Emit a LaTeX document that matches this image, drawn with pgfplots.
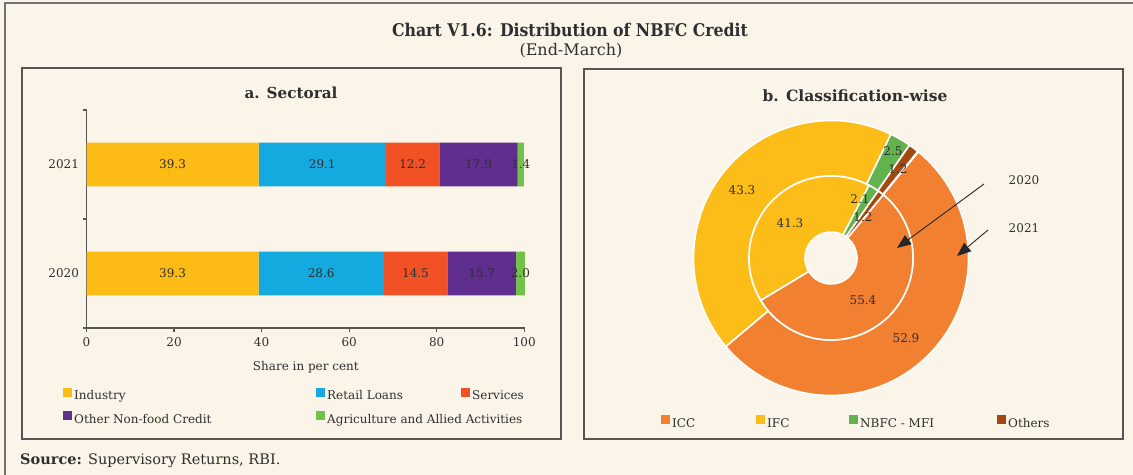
\documentclass[border=0pt]{standalone}
\usepackage{fontspec}
\setmainfont{DejaVu Serif}
\newfontfamily\condfont{DejaVu Serif Condensed}
\usepackage{pgfplots}
\pgfplotsset{compat=1.18}
\usepackage{pgfplotstable}
\usetikzlibrary{arrows.meta}

\definecolor{bg}{HTML}{FBF4E8}
\definecolor{cInd}{HTML}{FDBB16}
\definecolor{cRet}{HTML}{14AADF}
\definecolor{cSer}{HTML}{F15124}
\definecolor{cOth}{HTML}{5F2E8F}
\definecolor{cAgr}{HTML}{72C14A}
\definecolor{cICC}{HTML}{F28031}
\definecolor{cIFC}{HTML}{FDBD19}
\definecolor{cMFI}{HTML}{62B24E}
\definecolor{cOthers}{HTML}{A3490F}
\definecolor{txt}{HTML}{2F2F2F}
\definecolor{frame}{HTML}{555555}

\newcommand\fs{\fontsize{12bp}{14bp}\selectfont}
\newcommand\LA[2]{\makebox[#2bp][l]{\hspace{2bp}\rule[-3bp]{0pt}{12bp}#1}}

% Panel a: sectoral shares (per cent)
\pgfplotstableread{
pos ind ret ser oth agr
0 39.3 28.6 14.5 15.7 2.0
1 39.3 29.1 12.2 17.9 1.4
}\sectoral

% Panel b: classification-wise shares (per cent)
\pgfplotstableread{
cat y2020 y2021
ICC 55.4 52.9
IFC 41.3 43.3
MFI 2.1 2.5
Oth 1.2 1.2
}\donut

\pgfplotstablegetelem{0}{y2020}\of\donut\let\vIa\pgfplotsretval
\pgfplotstablegetelem{1}{y2020}\of\donut\let\vIb\pgfplotsretval
\pgfplotstablegetelem{2}{y2020}\of\donut\let\vIc\pgfplotsretval
\pgfplotstablegetelem{3}{y2020}\of\donut\let\vId\pgfplotsretval
\pgfplotstablegetelem{0}{y2021}\of\donut\let\vOa\pgfplotsretval
\pgfplotstablegetelem{1}{y2021}\of\donut\let\vOb\pgfplotsretval
\pgfplotstablegetelem{2}{y2021}\of\donut\let\vOc\pgfplotsretval
\pgfplotstablegetelem{3}{y2021}\of\donut\let\vOd\pgfplotsretval
\def\startang{50.5}
\pgfmathsetmacro\IA{\startang}
\pgfmathsetmacro\IB{\IA-3.6*\vIa}
\pgfmathsetmacro\IC{\IB-3.6*\vIb}
\pgfmathsetmacro\ID{\IC-3.6*\vIc}
\pgfmathsetmacro\IE{\ID-3.6*\vId}
\pgfmathsetmacro\OA{\startang}
\pgfmathsetmacro\OB{\OA-3.6*\vOa}
\pgfmathsetmacro\OC{\OB-3.6*\vOb}
\pgfmathsetmacro\OD{\OC-3.6*\vOc}
\pgfmathsetmacro\OE{\OD-3.6*\vOd}

\newcommand\donutwedge[5]{%
  \fill[#5, draw=white, line width=1.6bp]
    (axis cs:{#2*cos(#3)},{#2*sin(#3)}) arc[start angle=#3, end angle=#4, radius=#2bp]
    -- (axis cs:{#1*cos(#4)},{#1*sin(#4)}) arc[start angle=#4, end angle=#3, radius=#1bp] -- cycle;}

\begin{document}
\begin{tikzpicture}[x=1bp,y=1bp, font=\fs, text=txt]
\path[use as bounding box] (0,0) rectangle (1133,475);
\clip (0,0) rectangle (1133,475);
\fill[bg] (0,0) rectangle (1133,475);
% outer frame
\draw[black!55, line width=2.6bp] (5,-20) -- (5,472) -- (1150,472);
% panel frames
\draw[frame, line width=1.6bp] (22,36) rectangle (561,407);
\draw[frame, line width=1.6bp] (584,36) rectangle (1123,406);
% titles
\node at (570,445) {\condfont\bfseries\fontsize{17.5bp}{19bp}\selectfont Chart V1.6: Distribution of NBFC Credit};
\node at (571,424) {\fontsize{16bp}{18bp}\selectfont (End-March)};
\node at (291,382) {\bfseries\fontsize{15.2bp}{17bp}\selectfont a. Sectoral};
\node at (855,379) {\bfseries\fontsize{15.5bp}{17bp}\selectfont b. Classification-wise};
\node[anchor=west, inner sep=0pt] at (20,14) {\fontsize{14.5bp}{16bp}\selectfont\textbf{Source:} Supervisory Returns, RBI.};

\begin{axis}[
  at={(86.5bp,147bp)}, anchor=south west,
  scale only axis, width=438.68bp, height=218bp,
  xbar stacked, bar width=0.4,
  xmin=0, xmax=100.2, ymin=-0.5, ymax=1.5,
  clip=false,
  axis x line*=bottom, axis y line*=left,
  axis line style={draw=frame, line width=1.3bp},
  every tick/.style={draw=frame, line width=1.3bp},
  tick align=outside, major tick length=4bp,
  xtick={0,20,...,100},
  ytick={-0.5,0.5,1.5}, yticklabels={},
  extra y ticks={0,1}, extra y tick labels={2020,2021},
  extra y tick style={tick style={draw=none}},
  /pgf/number format/assume math mode=true,
  ticklabel style={font=\fs, text=txt},
  xticklabel style={yshift=-2bp},
  xlabel={Share in per cent},
  xlabel style={at={(axis description cs:0.5,-0.179)}, anchor=center, font=\fs},
  point meta=explicit symbolic,
  nodes near coords={\pgfplotspointmeta},
  every node near coord/.append style={anchor=center, font=\fs, text=txt},
  legend image code/.code={\fill[#1] (0bp,-0.5bp) rectangle (9bp,8.5bp);},
  legend columns=3,
  legend cell align=left,
  legend style={at={(axis description cs:-0.0536,-0.36)}, anchor=west, draw=none, fill=none,
    inner sep=0pt, column sep=0pt, row sep=10bp, font=\fs, nodes={inner sep=0pt}},
]
\addplot[fill=cInd, draw=none] table[x=ind, y=pos, meta=ind]{\sectoral};
\addplot[fill=cRet, draw=none] table[x=ret, y=pos, meta=ret]{\sectoral};
\addplot[fill=cSer, draw=none] table[x=ser, y=pos, meta=ser]{\sectoral};
\addplot[fill=cOth, draw=none] table[x=oth, y=pos, meta=oth]{\sectoral};
\addplot[fill=cAgr, draw=none] table[x=agr, y=pos, meta=agr]{\sectoral};
\legend{\LA{Industry}{244},\LA{Retail Loans}{136},\LA{Services}{80},\LA{Other Non-food Credit}{244},\LA{Agriculture and Allied Activities}{136}}
\end{axis}

\begin{axis}[
  at={(831bp,217bp)}, anchor=center,
  scale only axis, width=300bp, height=300bp,
  xmin=-150, xmax=150, ymin=-150, ymax=150,
  hide axis, clip=false,
  legend image code/.code={\fill[#1] (0bp,-0.5bp) rectangle (9bp,8.5bp);},
  legend columns=4,
  legend cell align=left,
  legend style={at={(axis description cs:-0.0667,-0.0467)}, anchor=west, draw=none, fill=none,
    inner sep=0pt, column sep=0pt, font=\fs, nodes={inner sep=0pt}},
]
\addlegendimage{fill=cICC, draw=none}
\addlegendimage{fill=cIFC, draw=none}
\addlegendimage{fill=cMFI, draw=none}
\addlegendimage{fill=cOthers, draw=none}
% outer ring: 2021
\donutwedge{82}{137.5}{\OA}{\OB}{cICC}
\donutwedge{82}{137.5}{\OB}{\OC}{cIFC}
\donutwedge{82}{137.5}{\OC}{\OD}{cMFI}
\donutwedge{82}{137.5}{\OD}{\OE}{cOthers}
% inner ring: 2020
\donutwedge{26}{82}{\IA}{\IB}{cICC}
\donutwedge{26}{82}{\IB}{\IC}{cIFC}
\donutwedge{26}{82}{\IC}{\ID}{cMFI}
\donutwedge{26}{82}{\ID}{\IE}{cOthers}
\node[font=\fs] at (axis cs:-89,68) {43.3};
\node[font=\fs] at (axis cs:-41,35) {41.3};
\node[font=\fs] at (axis cs:29,59) {2.1};
\node[font=\fs] at (axis cs:32,41) {1.2};
\node[font=\fs] at (axis cs:62,107) {2.5};
\node[font=\fs] at (axis cs:67,89) {1.2};
\node[font=\fs] at (axis cs:32,-42) {55.4};
\node[font=\fs] at (axis cs:75,-80) {52.9};
\legend{\LA{ICC}{86},\LA{IFC}{84},\LA{NBFC - MFI}{139},\LA{Others}{60}}
\end{axis}

% annotations
\draw[black!85, line width=0.9bp, -{Triangle[length=14bp,width=11bp]}] (984,291) -- (897,227);
\draw[black!85, line width=0.9bp, -{Triangle[length=14bp,width=11bp]}] (988,245) -- (957,219);
\node at (1024,295) {2020};
\node at (1024,247) {2021};
\end{tikzpicture}
\end{document}
